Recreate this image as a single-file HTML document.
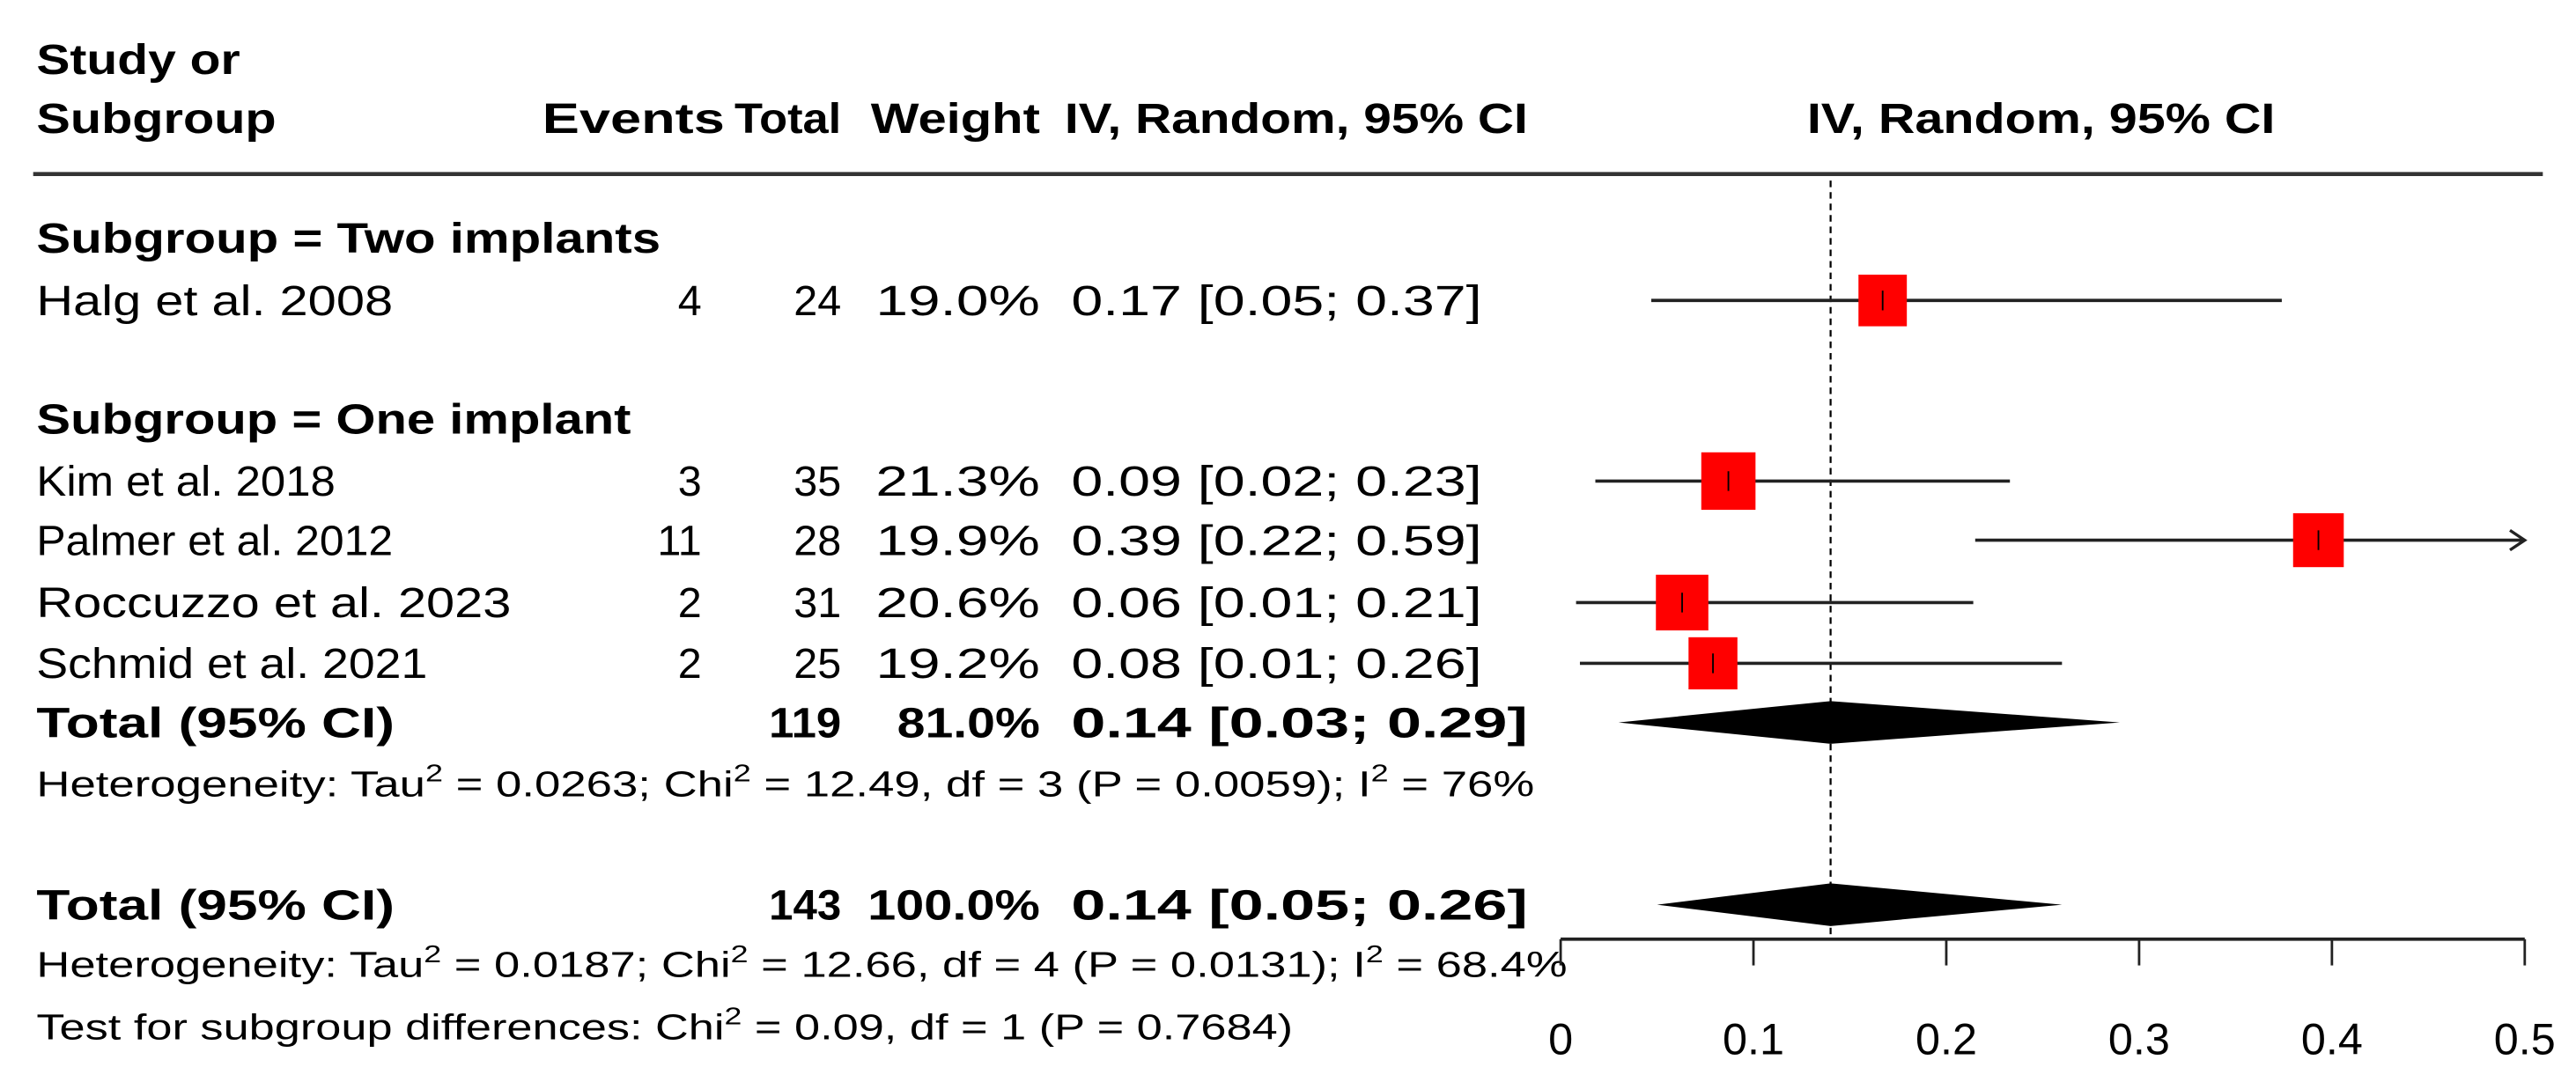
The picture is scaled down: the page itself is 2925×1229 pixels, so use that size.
<!DOCTYPE html>
<html><head><meta charset="utf-8"><style>
html,body{margin:0;padding:0;background:#fff;}
svg{display:block;font-family:"Liberation Sans",Arial,sans-serif;}
</style></head><body>
<svg id="chart" width="2925" height="1229" viewBox="0 0 1568 659" xmlns="http://www.w3.org/2000/svg">
<g font-weight="bold" font-size="26">
<text x="22" y="45" textLength="124" lengthAdjust="spacingAndGlyphs">Study or</text>
<text x="22" y="81" textLength="146" lengthAdjust="spacingAndGlyphs">Subgroup</text>
<text x="441" y="81" text-anchor="end" textLength="111" lengthAdjust="spacingAndGlyphs">Events</text>
<text x="512" y="81" text-anchor="end" textLength="65" lengthAdjust="spacingAndGlyphs">Total</text>
<text x="633" y="81" text-anchor="end" textLength="103" lengthAdjust="spacingAndGlyphs">Weight</text>
<text x="648" y="81" textLength="282" lengthAdjust="spacingAndGlyphs">IV, Random, 95% CI</text>
<text x="1100" y="81" textLength="285" lengthAdjust="spacingAndGlyphs">IV, Random, 95% CI</text>
</g>
<line x1="20" y1="106" x2="1548" y2="106" stroke="#333" stroke-width="2.5"/>
<g id="texts" font-size="26"></g>
<g id="plot"></g>
</svg>
<script>
const studies = ["Halg et al. 2008","Kim et al. 2018","Palmer et al. 2012","Roccuzzo et al. 2023","Schmid et al. 2021"];
const events = [4,3,11,2,2];
const totals = [24,35,28,31,25];
const weights = [19.0,21.3,19.9,20.6,19.2];
const est = [0.167,0.087,0.393,0.063,0.079];
const lower = [0.047,0.018,0.215,0.008,0.010];
const upper = [0.374,0.233,0.594,0.214,0.260];
const ciText = ["0.17 [0.05; 0.37]","0.09 [0.02; 0.23]","0.39 [0.22; 0.59]","0.06 [0.01; 0.21]","0.08 [0.01; 0.26]"];
const rowY = [183,293,329,367,404];
const pooledEst = [0.14,0.14];
const pooledLower = [0.03,0.05];
const pooledUpper = [0.29,0.26];
const overallEst = 0.14;
const ticks = [0,0.1,0.2,0.3,0.4,0.5];
const tickLabels = ["0","0.1","0.2","0.3","0.4","0.5"];

const NS="http://www.w3.org/2000/svg";
const X0=950, X1=1537, XMIN=0, XMAX=0.5;
function xs(v){return X0+(v-XMIN)/(XMAX-XMIN)*(X1-X0);}
function mk(tag,attrs,parent){const e=document.createElementNS(NS,tag);for(const k in attrs)e.setAttribute(k,attrs[k]);parent.appendChild(e);return e;}
const T=document.getElementById('texts'), P=document.getElementById('plot');
function txt(s,x,y,opt){const e=mk('text',{x:x,y:y},T);e.textContent=s;
 if(opt.anchor)e.setAttribute('text-anchor',opt.anchor);
 if(opt.bold)e.setAttribute('font-weight','bold');
 if(opt.size)e.setAttribute('font-size',opt.size);
 if(opt.len){e.setAttribute('textLength',opt.len);e.setAttribute('lengthAdjust','spacingAndGlyphs');}
 return e;}

let e;
e=txt("Subgroup = Two implants",22,154,{bold:1,len:380});


e=txt("Subgroup = One implant",22,264,{bold:1,len:362});


const nameLen=[217,182,217,289,238];
studies.forEach((s,i)=>{
 const y=rowY[i]+9;
 e=txt(s,22,y,{len:nameLen[i]});
 
 
 e=txt(String(events[i]),427,y,{anchor:'end'});
 
 
 e=txt(String(totals[i]),512,y,{anchor:'end'});
 
 
 e=txt(weights[i].toFixed(1)+"%",633,y,{anchor:'end',len:100});
 
 
 e=txt(ciText[i],652,y,{len:250});
 
 
});
e=txt("Total (95% CI)",22,449,{bold:1,len:218});


e=txt("119",512,449,{bold:1,anchor:'end',len:44});


e=txt("81.0%",633,449,{bold:1,anchor:'end',len:87});


e=txt("0.14 [0.03; 0.29]",652,449,{bold:1,len:278});


e=txt("Total (95% CI)",22,560,{bold:1,len:218});


e=txt("143",512,560,{bold:1,anchor:'end',len:44});


e=txt("100.0%",633,560,{bold:1,anchor:'end',len:105});


e=txt("0.14 [0.05; 0.26]",652,560,{bold:1,len:278});



function het(parts,y,len,name){
 const t=mk('text',{x:22,y:y,'font-size':22,textLength:len,lengthAdjust:'spacingAndGlyphs'},T);
 
 
 parts.forEach(p=>{const s=mk('tspan',{},t);s.textContent=p[0];
  if(p[1]){s.setAttribute('font-size','15');s.setAttribute('dy','-9');}
  else if(p[2]){s.setAttribute('dy','9');}});
}
het([["Heterogeneity: Tau"],["2",1],[" = 0.0263; Chi",0,1],["2",1],[" = 12.49, df = 3 (P = 0.0059); I",0,1],["2",1],[" = 76%",0,1]],485,912,'heterogeneity-subgroup');
het([["Heterogeneity: Tau"],["2",1],[" = 0.0187; Chi",0,1],["2",1],[" = 12.66, df = 4 (P = 0.0131); I",0,1],["2",1],[" = 68.4%",0,1]],595,932,'heterogeneity-overall');
het([["Test for subgroup differences: Chi"],["2",1],[" = 0.09, df = 1 (P = 0.7684)",0,1]],633,765,'subgroup-differences-test');

e=mk('line',{x1:xs(overallEst),y1:110,x2:xs(overallEst),y2:572,stroke:'#000','stroke-width':1.2,'stroke-dasharray':'4,3'},P);



studies.forEach((s,i)=>{
 const y=rowY[i];
 const hi=Math.min(upper[i],XMAX);
 e=mk('line',{x1:xs(lower[i]),y1:y,x2:xs(hi),y2:y,stroke:'#222','stroke-width':2},P);
 
 
 if(upper[i]>XMAX){
  e=mk('path',{d:`M${xs(XMAX)-9},${y-6} L${xs(XMAX)},${y} L${xs(XMAX)-9},${y+6}`,fill:'none',stroke:'#222','stroke-width':1.8},P);
  
  
 }
 const sz=weights[i]*1.55;
 e=mk('rect',{x:xs(est[i])-sz/2,y:y-sz/2-1,width:sz,height:sz+2,fill:'#ff0000'},P);
 
 
 e=mk('line',{x1:xs(est[i]),y1:y-6,x2:xs(est[i]),y2:y+6,stroke:'#000','stroke-width':1},P);
 
 
});
const dy=[440,551];
pooledEst.forEach((v,i)=>{
 const y=dy[i];
 e=mk('polygon',{points:`${xs(pooledLower[i])},${y} ${xs(v)},${y-13} ${xs(pooledUpper[i])},${y} ${xs(v)},${y+13}`,fill:'#000'},P);
 
 
});
e=mk('line',{x1:xs(XMIN),y1:572,x2:xs(XMAX),y2:572,stroke:'#222','stroke-width':2},P);


ticks.forEach((t,i)=>{
 e=mk('line',{x1:xs(t),y1:572,x2:xs(t),y2:588,stroke:'#222','stroke-width':1.5},P);
 
 
 e=mk('text',{x:xs(t),y:642,'text-anchor':'middle','font-size':27},P);
 e.textContent=tickLabels[i];
 
 
});
</script>
</body></html>
